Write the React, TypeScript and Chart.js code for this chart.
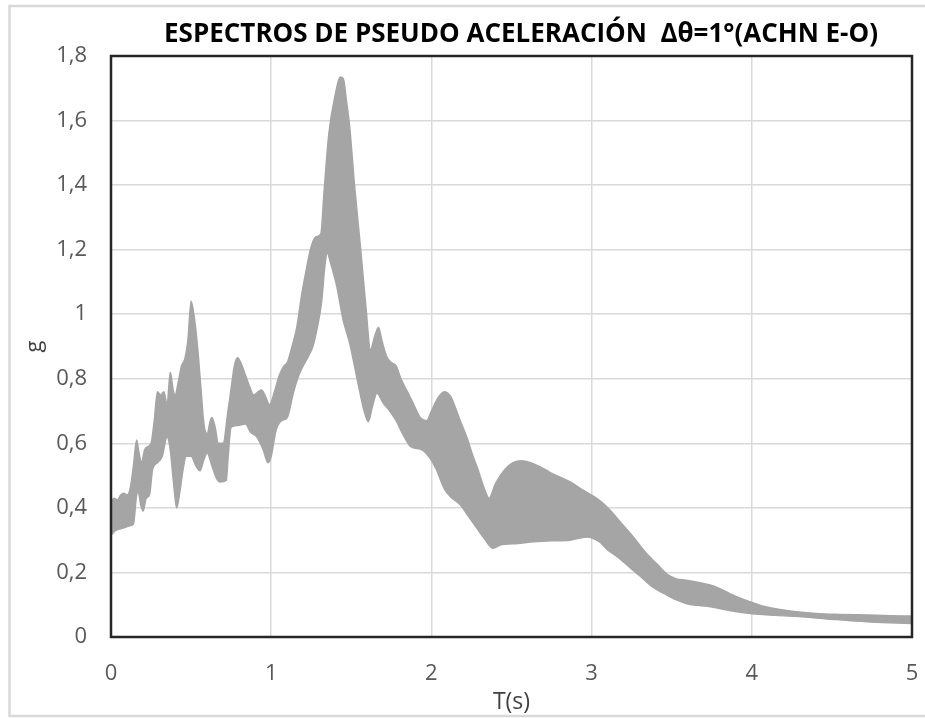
import React, { useEffect, useRef } from 'react';
import { Chart, registerables } from 'chart.js';

Chart.register(...registerables);

const chartTitle = 'ESPECTROS DE PSEUDO ACELERACIÓN  Δθ=1°(ACHN E-O)';
const xAxisTitle = 'T(s)';
const yAxisTitle = 'g';

const xTickLabels = ['0', '1', '2', '3', '4', '5'];
const yTickLabels = ['0', '0,2', '0,4', '0,6', '0,8', '1', '1,2', '1,4', '1,6', '1,8'];

// Upper envelope of the spectra band
const upperT = [
  0.0, 0.02, 0.04, 0.06, 0.08, 0.1, 0.12, 0.14, 0.16, 0.175, 0.19, 0.21, 0.23, 0.25, 0.27, 0.29, 0.31, 0.33,
  0.35, 0.37, 0.39, 0.4, 0.42, 0.44, 0.46, 0.48, 0.5, 0.52, 0.54, 0.56, 0.58, 0.6, 0.62, 0.63, 0.65, 0.67,
  0.7, 0.73, 0.75, 0.77, 0.79, 0.81, 0.84, 0.87, 0.89, 0.92, 0.94, 0.96, 0.99, 1.02, 1.05, 1.08, 1.1, 1.13,
  1.16, 1.19, 1.21, 1.25, 1.28, 1.31, 1.33, 1.36, 1.4, 1.43, 1.45, 1.47, 1.49, 1.52, 1.555, 1.59, 1.62,
  1.645, 1.67, 1.69, 1.72, 1.75, 1.78, 1.81, 1.85, 1.89, 1.93, 1.97, 2.0, 2.04, 2.08, 2.12, 2.15, 2.18,
  2.22, 2.26, 2.29, 2.33, 2.36, 2.4, 2.43, 2.47, 2.51, 2.56, 2.62, 2.68, 2.74, 2.8, 2.87, 2.93, 2.98, 3.03,
  3.08, 3.12, 3.19, 3.26, 3.34, 3.41, 3.47, 3.53, 3.59, 3.66, 3.74, 3.8, 3.86, 3.92, 3.99, 4.06, 4.13,
  4.25, 4.4, 4.55, 4.72, 4.86, 5.0,
];
const upperG = [
  0.42, 0.43, 0.425, 0.44, 0.445, 0.44, 0.46, 0.53, 0.61, 0.57, 0.54, 0.58, 0.59, 0.6, 0.67, 0.76, 0.75, 0.76,
  0.72, 0.82, 0.76, 0.75, 0.79, 0.84, 0.86, 0.92, 1.04, 0.99, 0.9, 0.78, 0.66, 0.63, 0.67, 0.68, 0.65, 0.6,
  0.6, 0.7, 0.77, 0.84, 0.865, 0.85, 0.81, 0.77, 0.75, 0.76, 0.765, 0.75, 0.72, 0.76, 0.81, 0.84, 0.85, 0.9,
  0.96, 1.06, 1.115, 1.21, 1.24, 1.25, 1.38, 1.56, 1.68, 1.735, 1.73, 1.66, 1.58, 1.4, 1.22, 1.03, 0.89,
  0.93, 0.96, 0.92, 0.87, 0.85, 0.84, 0.8, 0.76, 0.72, 0.68, 0.67, 0.7, 0.74, 0.76, 0.745, 0.71, 0.67,
  0.62, 0.56, 0.52, 0.46, 0.43, 0.475, 0.5, 0.525, 0.54, 0.546, 0.54, 0.527, 0.51, 0.496, 0.48, 0.46, 0.445, 0.43,
  0.41, 0.39, 0.35, 0.31, 0.26, 0.225, 0.195, 0.18, 0.176, 0.17, 0.161, 0.15, 0.135, 0.122, 0.109, 0.097, 0.089,
  0.08, 0.073, 0.07, 0.068, 0.066, 0.065,
];

// Lower envelope of the spectra band
const lowerT = [
  0.0, 0.03, 0.06, 0.09, 0.12, 0.14, 0.16, 0.17, 0.185, 0.2, 0.22, 0.24, 0.26, 0.29, 0.32, 0.35, 0.37, 0.39,
  0.41, 0.43, 0.45, 0.47, 0.5, 0.53, 0.555, 0.58, 0.6, 0.63, 0.66, 0.68, 0.72, 0.73, 0.75, 0.79, 0.84, 0.87,
  0.91, 0.95, 0.98, 1.0, 1.03, 1.065, 1.1, 1.14, 1.18, 1.23, 1.26, 1.284, 1.315, 1.335, 1.35, 1.37, 1.41,
  1.45, 1.49, 1.52, 1.555, 1.58, 1.606, 1.63, 1.66, 1.7, 1.74, 1.78, 1.82, 1.87, 1.94, 1.99, 2.03, 2.08,
  2.12, 2.18, 2.23, 2.28, 2.33, 2.385, 2.43, 2.54, 2.64, 2.75, 2.865, 2.97, 3.05, 3.1, 3.16, 3.24, 3.3, 3.38,
  3.47, 3.53, 3.59, 3.66, 3.74, 3.86, 3.99, 4.15, 4.31, 4.5, 4.72, 4.86, 5.0,
];
const lowerG = [
  0.316, 0.33, 0.335, 0.34, 0.345, 0.35, 0.44, 0.45, 0.41, 0.39, 0.43, 0.44, 0.52, 0.54, 0.56, 0.62, 0.58, 0.48,
  0.4, 0.45, 0.52, 0.56, 0.56, 0.53, 0.515, 0.55, 0.57, 0.53, 0.49, 0.48, 0.485, 0.55, 0.65, 0.655, 0.66, 0.635,
  0.62, 0.58, 0.54, 0.56, 0.64, 0.67, 0.68, 0.76, 0.82, 0.868, 0.9, 0.95, 1.04, 1.15, 1.19, 1.16, 1.085,
  0.98, 0.91, 0.84, 0.755, 0.7, 0.667, 0.71, 0.755, 0.724, 0.7, 0.67, 0.63, 0.59, 0.58, 0.555, 0.52, 0.46,
  0.434, 0.41, 0.375, 0.34, 0.305, 0.275, 0.285, 0.29, 0.295, 0.298, 0.3, 0.31, 0.295, 0.27, 0.249, 0.215, 0.19, 0.155,
  0.13, 0.115, 0.104, 0.098, 0.094, 0.082, 0.073, 0.067, 0.063, 0.055, 0.047, 0.044, 0.042,
];

const FONT = "'Open Sans', 'Noto Sans', sans-serif";
const BAND = '#a5a5a5';

export default function App() {
  const ref = useRef<HTMLCanvasElement | null>(null);

  useEffect(() => {
    if (!ref.current) return;

    const bgPlugin = {
      id: 'bg',
      beforeDraw(chart: any) {
        const { ctx, width, height } = chart;
        ctx.save();
        ctx.fillStyle = '#ffffff';
        ctx.fillRect(0, 0, width, height);
        ctx.strokeStyle = '#d9d9d9';
        ctx.lineWidth = 2.5;
        ctx.beginPath();
        ctx.moveTo(width + 10, 6);
        ctx.lineTo(9.5, 6);
        ctx.lineTo(9.5, 716);
        ctx.lineTo(width + 10, 716);
        ctx.stroke();
        ctx.restore();
      },
    };

    const framePlugin = {
      id: 'frame',
      afterDatasetsDraw(chart: any) {
        const { ctx, chartArea } = chart;
        ctx.save();
        ctx.strokeStyle = '#262626';
        ctx.lineWidth = 2.5;
        ctx.strokeRect(chartArea.left, chartArea.top, chartArea.right - chartArea.left, chartArea.bottom - chartArea.top);
        ctx.restore();
      },
    };

    const titlePlugin = {
      id: 'customTitle',
      afterDraw(chart: any) {
        const { ctx } = chart;
        ctx.save();
        ctx.font = `bold 26px ${FONT}`;
        ctx.fillStyle = '#000000';
        ctx.textAlign = 'center';
        ctx.textBaseline = 'middle';
        ctx.fillText(chartTitle, 521, 35);
        ctx.restore();
      },
    };

    const chart = new Chart(ref.current, {
      type: 'line',
      data: {
        datasets: [
          {
            label: 'lower',
            data: lowerT.map((t, i) => ({ x: t, y: lowerG[i] })),
            borderColor: BAND,
            backgroundColor: BAND,
            borderWidth: 1.5,
            pointRadius: 0,
            fill: false,
            cubicInterpolationMode: 'monotone',
          },
          {
            label: 'upper',
            data: upperT.map((t, i) => ({ x: t, y: upperG[i] })),
            borderColor: BAND,
            backgroundColor: BAND,
            borderWidth: 1.5,
            pointRadius: 0,
            fill: '-1',
            cubicInterpolationMode: 'monotone',
          },
        ],
      },
      options: {
        animation: false,
        responsive: false,
        layout: { padding: { top: 56, right: 13, left: 0, bottom: 0 } },
        plugins: {
          legend: { display: false },
          title: { display: false },
          tooltip: { enabled: false },
        },
        scales: {
          x: {
            type: 'linear',
            min: 0,
            max: 5,
            afterFit: (s: any) => {
              s.height = 81;
              s.paddingLeft = 0;
              s.paddingRight = 0;
            },
            ticks: {
              stepSize: 1,
              padding: 24,
              color: '#595959',
              font: { family: FONT, size: 22 },
              callback: (_v: any, i: number) => xTickLabels[i],
              maxRotation: 0,
            },
            grid: { color: '#d9d9d9', lineWidth: 1.5, drawTicks: false },
            border: { display: false },
            title: {
              display: true,
              text: xAxisTitle,
              color: '#404040',
              font: { family: FONT, size: 23 },
              padding: { top: 0, bottom: 2 },
            },
          },
          y: {
            type: 'linear',
            min: 0,
            max: 1.8,
            afterFit: (s: any) => {
              s.width = 111;
              s.paddingTop = 0;
              s.paddingBottom = 0;
            },
            ticks: {
              stepSize: 0.2,
              padding: 24,
              color: '#595959',
              font: { family: FONT, size: 22 },
              callback: (_v: any, i: number) => yTickLabels[i],
            },
            grid: { color: '#d9d9d9', lineWidth: 1.5, drawTicks: false },
            border: { display: false },
            title: {
              display: true,
              text: yAxisTitle,
              color: '#404040',
              font: { family: FONT, size: 22 },
              padding: { top: 22, bottom: 0 },
            },
          },
        },
      },
      plugins: [bgPlugin, framePlugin, titlePlugin],
    });

    return () => {
      chart.destroy();
    };
  }, []);

  return (
    <div style={{ position: 'fixed', left: 0, top: 0, width: 925, height: 718, background: '#fff' }}>
      <canvas ref={ref} width={925} height={718} style={{ display: 'block' }} />
    </div>
  );
}
